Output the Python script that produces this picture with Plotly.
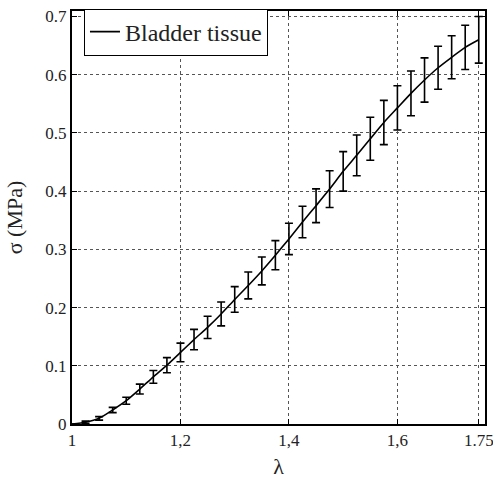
import plotly.graph_objects as go

lam = [1.0, 1.025, 1.05, 1.075, 1.1, 1.125, 1.15, 1.175, 1.2, 1.225, 1.25, 1.275,
       1.3, 1.325, 1.35, 1.375, 1.4, 1.425, 1.45, 1.475, 1.5, 1.525, 1.55, 1.575,
       1.6, 1.625, 1.65, 1.675, 1.7, 1.725, 1.75]
sigma = [0.0, 0.003, 0.0097, 0.024, 0.040, 0.060, 0.081, 0.101, 0.123, 0.145, 0.166,
         0.189, 0.214, 0.238, 0.263, 0.290, 0.318, 0.347, 0.375, 0.4035, 0.434, 0.4615,
         0.490, 0.518, 0.543, 0.568, 0.591, 0.612, 0.630, 0.647, 0.660]
err = [0.0, 0.002, 0.003, 0.0045, 0.006, 0.0085, 0.011, 0.013, 0.016, 0.0175, 0.019,
       0.0205, 0.022, 0.023, 0.024, 0.025, 0.027, 0.027, 0.029, 0.0315, 0.034, 0.035,
       0.037, 0.038, 0.038, 0.0385, 0.038, 0.037, 0.037, 0.038, 0.040]

x_tickvals = [1, 1.2, 1.4, 1.6, 1.75]
x_ticktext = ["1", "1,2", "1,4", "1,6", "1.75"]
y_tickvals = [0, 0.1, 0.2, 0.3, 0.4, 0.5, 0.6, 0.7]
y_ticktext = ["0", "0.1", "0.2", "0.3", "0.4", "0.5", "0.6", "0.7"]

FONT = "Liberation Serif, Times New Roman, Times, serif"
TXT = "#222222"

fig = go.Figure()
fig.add_trace(go.Scatter(
    x=lam, y=sigma, mode="lines", name="Bladder tissue",
    line=dict(color="black", width=1.6, shape="spline", smoothing=0.6),
    error_y=dict(type="data", array=err, visible=True, color="black",
                 thickness=1.6, width=4),
))

axis_common = dict(
    showline=True, linecolor="black", linewidth=2, mirror="ticks",
    ticks="inside", ticklen=5, tickcolor="black", tickwidth=1,
    showgrid=True, gridcolor="#555555", griddash="dot", gridwidth=1,
    zeroline=False, automargin=False, ticklabeloverflow="allow",
    tickfont=dict(family=FONT, size=17, color=TXT),
)

fig.update_xaxes(range=[1, 1.7615], tickvals=x_tickvals, ticktext=x_ticktext,
                 title=dict(text="λ", font=dict(family=FONT, size=22, color=TXT),
                            standoff=17),
                 **axis_common)
fig.update_yaxes(range=[0, 0.7095], tickvals=y_tickvals, ticktext=y_ticktext,
                 title=dict(text="σ (MPa)", font=dict(family=FONT, size=22, color=TXT),
                            standoff=17),
                 **axis_common)

fig.update_layout(
    width=493, height=479,
    margin=dict(l=72, r=8, t=11, b=55),
    plot_bgcolor="white", paper_bgcolor="white",
    font=dict(family=FONT, color=TXT),
    showlegend=True,
    legend=dict(x=0.029, y=0.949, xanchor="left", yanchor="middle",
                bordercolor="black", borderwidth=1, bgcolor="white",
                font=dict(family=FONT, size=24, color=TXT),
                itemwidth=30, tracegroupgap=0),
)

fig.write_html(
    "out.html",
    config={"displayModeBar": False},
    post_script="document.body.style.margin='0';"
                "document.documentElement.style.overflow='hidden';",
)
